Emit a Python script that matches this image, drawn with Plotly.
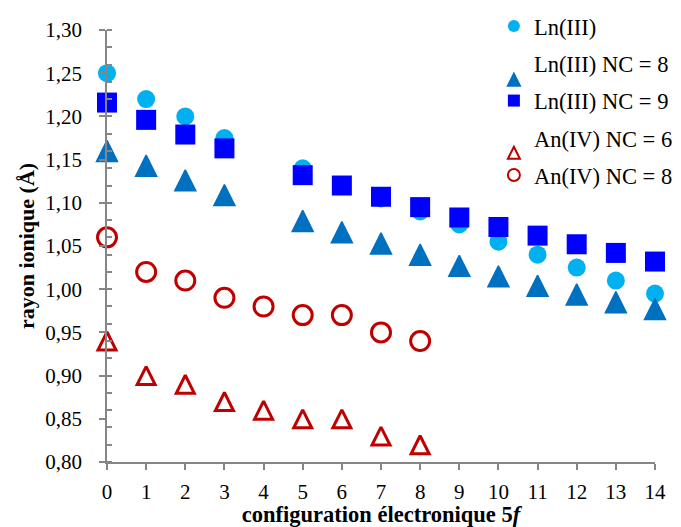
import plotly.graph_objects as go

# ---- data ----
x_ln = [0, 1, 2, 3, 5, 6, 7, 8, 9, 10, 11, 12, 13, 14]
ln3 = [1.25, 1.22, 1.20, 1.175, 1.14, 1.12, 1.105, 1.09, 1.075, 1.055, 1.04, 1.025, 1.01, 0.995]
ln3_nc8 = [1.16, 1.143, 1.126, 1.109, 1.079, 1.066, 1.053, 1.04, 1.027, 1.015, 1.004, 0.994, 0.985, 0.977]
ln3_nc9 = [1.216, 1.196, 1.179, 1.163, 1.132, 1.12, 1.107, 1.095, 1.083, 1.072, 1.062, 1.052, 1.042, 1.032]
x_an = [0, 1, 2, 3, 4, 5, 6, 7, 8]
an4_nc6 = [0.94, 0.90, 0.89, 0.87, 0.86, 0.85, 0.85, 0.83, 0.82]
an4_nc8 = [1.06, 1.02, 1.01, 0.99, 0.98, 0.97, 0.97, 0.95, 0.94]
x_ticks = list(range(0, 15))
y_ticks = [0.80, 0.85, 0.90, 0.95, 1.00, 1.05, 1.10, 1.15, 1.20, 1.25, 1.30]

FONT = "Liberation Serif, Times New Roman, serif"

fig = go.Figure()
fig.add_trace(go.Scatter(
    x=x_ln, y=ln3, mode="markers", name="Ln(III)", legendgroup="a",
    marker=dict(symbol="circle", size=18, color="#00B0F0"), cliponaxis=False))
fig.add_trace(go.Scatter(
    x=x_ln, y=ln3_nc8, mode="markers", name="Ln(III) NC = 8", legendgroup="b",
    marker=dict(symbol="arrow-down", angle=180, standoff=10.5, size=21, color="#0070C0",
                line=dict(color="#0070C0", width=1.5)), cliponaxis=False))
fig.add_trace(go.Scatter(
    x=x_ln, y=ln3_nc9, mode="markers", name="Ln(III) NC = 9", legendgroup="c",
    marker=dict(symbol="square", size=20, color="#0000FF"), cliponaxis=False))
fig.add_trace(go.Scatter(
    x=x_an, y=an4_nc6, mode="markers", name="An(IV) NC = 6", legendgroup="d",
    marker=dict(symbol="arrow-down-open", angle=180, standoff=9, size=18, color="#C00000",
                line=dict(color="#C00000", width=3)), cliponaxis=False))
fig.add_trace(go.Scatter(
    x=x_an, y=an4_nc8, mode="markers", name="An(IV) NC = 8", legendgroup="e",
    marker=dict(symbol="circle-open", size=19, color="#C00000",
                line=dict(color="#C00000", width=3)), cliponaxis=False))

# the page body adds an 8px offset, so the figure is sized to fit inside the window
fig.update_layout(
    width=673, height=519,
    margin=dict(l=99, r=26, t=22, b=65, autoexpand=False),
    plot_bgcolor="white", paper_bgcolor="white",
    separators=", ",
    font=dict(family=FONT, color="black", size=21),
    showlegend=True,
    legend=dict(x=0.706, y=1.058, xanchor="left", yanchor="top",
                font=dict(family=FONT, size=22.5, color="black"),
                itemsizing="constant", tracegroupgap=5,
                bgcolor="rgba(0,0,0,0)"),
    xaxis=dict(range=[0, 14], tickvals=x_ticks, ticktext=[str(v) for v in x_ticks],
               showgrid=False, zeroline=False, showline=True, linecolor="#868686", linewidth=1.5,
               ticks="outside", ticklen=6, tickcolor="#868686", tickwidth=1.5,
               ticklabelstandoff=4,
               tickfont=dict(family=FONT, size=21), automargin=False,
               title=dict(text="<b>configuration électronique 5<i>f</i></b>",
                          font=dict(family=FONT, size=22.5), standoff=4)),
    yaxis=dict(range=[0.80, 1.30], tickvals=y_ticks, tickformat=".2f",
               showgrid=False, zeroline=False, showline=True, linecolor="#868686", linewidth=1.5,
               ticks="outside", ticklen=6, tickcolor="#868686", tickwidth=1.5,
               ticklabelstandoff=13, automargin=False,
               minor=dict(dtick=0.02, tick0=0.80, ticks="inside", ticklen=5,
                          tickcolor="#868686", tickwidth=1.5, showgrid=False),
               tickfont=dict(family=FONT, size=21),
               title=dict(text="<b>rayon ionique (Å)</b>",
                          font=dict(family=FONT, size=22), standoff=5)),
)

fig.write_html("out.html")
